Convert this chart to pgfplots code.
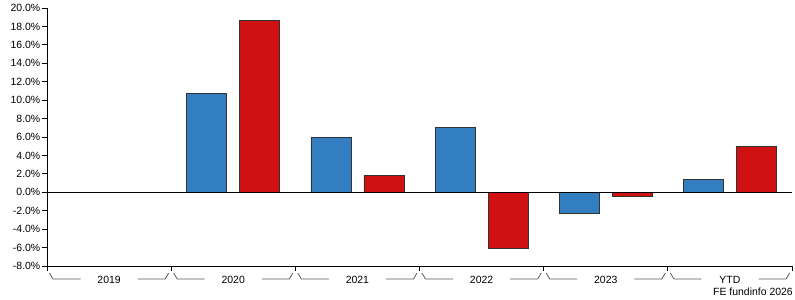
\documentclass[border=0pt]{standalone}
\usepackage{fontspec}
\setmainfont{Liberation Sans}
\usepackage{pgfplots}
\pgfplotsset{compat=1.18}
\definecolor{barblue}{RGB}{51,125,193}
\definecolor{barred}{RGB}{207,17,17}
\begin{document}
\begin{tikzpicture}
\useasboundingbox (0,0) rectangle (795bp,300bp);
\begin{axis}[
 at={(47bp,34bp)}, anchor=south west,
 scale only axis, width=745bp, height=258bp,
 xmin=-0.5, xmax=5.5, ymin=-8, ymax=20,
 axis lines=left, axis line style={-, black, line width=0.8pt},
 xtick={-0.5,0.5,1.5,2.5,3.5,4.5,5.5}, xticklabels={},
 ytick={-8,-6,...,20},
 tick align=outside, major tick length=5bp, tick style={black, line width=0.8pt},
 yticklabel={\pgfmathprintnumber[fixed,fixed zerofill,precision=1]{\tick}\%},
 /pgf/number format/assume math mode=true,
 ticklabel style={font=\fontsize{10.5}{12}\selectfont, inner sep=1.5bp},
 ybar, bar width=40bp,
 clip=false,
]
\addplot[fill=barblue, draw=black!80, line width=0.7pt, bar shift=-26.5bp] coordinates {(1,10.75) (2,5.97) (3,7.06) (4,-2.28) (5,1.41)};
\addplot[fill=barred, draw=black!80, line width=0.7pt, bar shift=26.5bp] coordinates {(1,18.68) (2,1.85) (3,-6.08) (4,-0.43) (5,5.0)};
\draw[black, line width=0.8pt] (axis cs:-0.5,0) -- (axis cs:5.5,0);
\end{axis}
\foreach \k/\lab in {0/2019,1/2020,2/2021,3/2022,4/2023,5/YTD} {
 \pgfmathsetmacro\L{47+\k*124.17}
 \pgfmathsetmacro\R{\L+124.17}
 \pgfmathsetmacro\C{\L+62.08}
 \draw[black!65, line width=0.8pt] (\L bp+2.5bp,27bp) -- (\L bp+6bp,21bp) -- (\L bp+33.5bp,21bp);
 \draw[black!65, line width=0.8pt] (\R bp-33.5bp,21bp) -- (\R bp-6bp,21bp) -- (\R bp-2.5bp,27bp);
 \node[font=\fontsize{10.5}{12}\selectfont, inner sep=0pt] at (\C bp,20bp) {\lab};
}
\node[font=\fontsize{10.5}{12}\selectfont, inner sep=0pt, anchor=east] at (793bp,8bp) {FE fundinfo 2026};
\end{tikzpicture}
\end{document}
